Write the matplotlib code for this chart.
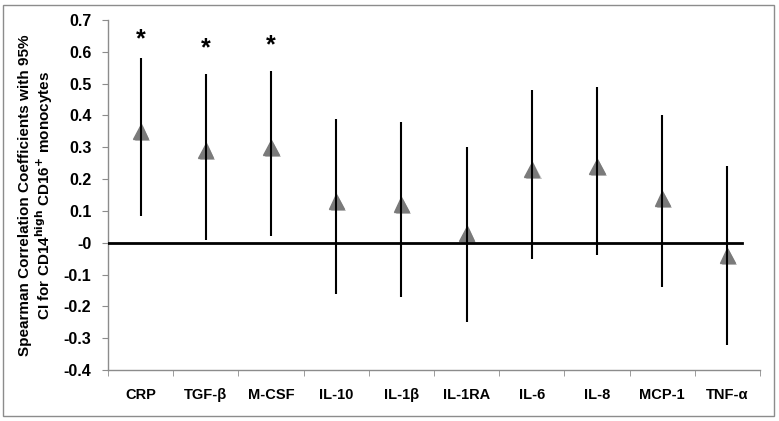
import numpy as np
import matplotlib
matplotlib.use("Agg")
import matplotlib.pyplot as plt
from matplotlib.patches import Rectangle
import matplotlib.patheffects as pe

# data
cytokines = ["CRP", "TGF-\u03b2", "M-CSF", "IL-10", "IL-1\u03b2", "IL-1RA",
             "IL-6", "IL-8", "MCP-1", "TNF-\u03b1"]
rho = [0.35, 0.29, 0.30, 0.13, 0.12, 0.03, 0.23, 0.24, 0.14, -0.04]
ci_low = [0.085, 0.01, 0.02, -0.16, -0.17, -0.25, -0.05, -0.04, -0.14, -0.32]
ci_high = [0.58, 0.53, 0.54, 0.39, 0.38, 0.30, 0.48, 0.49, 0.40, 0.24]
signif = [True, True, True, False, False, False, False, False, False, False]
star_y = [0.64, 0.61, 0.62]

plt.rcParams['font.family'] = ['Liberation Sans', 'DejaVu Sans']

fig = plt.figure(figsize=(7.79, 4.21), dpi=100)
ax = fig.add_axes([0.1386, 0.1211, 0.837, 0.8314])

x = np.arange(len(cytokines))

# confidence interval lines
ax.vlines(x, ci_low, ci_high, color='black', lw=1.5, zorder=4)
# point estimates
ax.plot(x, rho, linestyle='none', marker='^', markersize=11,
        color='#7a7a7a', markeredgecolor='#7a7a7a', zorder=3,
        path_effects=[pe.SimplePatchShadow(offset=(1.5, -1.5), alpha=0.3),
                      pe.Normal()])

# zero line
ax.plot([-0.5, 9.22], [0, 0], color='black', lw=2, zorder=5)

# significance stars
k = 0
for i, s in enumerate(signif):
    if s:
        ax.text(x[i], star_y[k], "*", ha='center', va='center',
                fontsize=18, fontweight='bold')
        k += 1

ax.set_xlim(-0.5, 9.5)
ax.set_ylim(-0.4, 0.7)
yt = np.arange(-0.4, 0.71, 0.1)
ax.set_yticks(yt)
ax.set_yticklabels(["%g" % round(v, 1) for v in yt],
                   fontweight='bold', fontsize=11.5)
ax.set_xticks(x)
ax.set_xticklabels(cytokines, fontweight='bold', fontsize=10.5)
ax.set_xticks(np.arange(-0.5, 9.6, 1), minor=True)
ax.tick_params(axis='x', which='major', length=0, pad=13)
ax.tick_params(axis='x', which='minor', length=4, color='#8c8c8c')
ax.tick_params(axis='y', length=4, color='#8c8c8c', pad=8)

for side in ['top', 'right']:
    ax.spines[side].set_visible(False)
for side in ['left', 'bottom']:
    ax.spines[side].set_color('#8c8c8c')
    ax.spines[side].set_linewidth(1)

ax.set_ylabel("Spearman Correlation Coefficients with 95%\n"
              "CI for CD14$^{\\mathbf{high}}$ CD16$^{\\mathbf{+}}$ monocytes",
              fontweight='bold', fontsize=11, linespacing=1.05)
ax.yaxis.set_label_coords(-0.082, 0.5)

# outer border
fig.add_artist(Rectangle((3 / 779, 5 / 421), 771 / 779, 411 / 421,
                         transform=fig.transFigure, fill=False,
                         edgecolor='#8c8c8c', lw=1))

fig.savefig("out.png", dpi=100)
